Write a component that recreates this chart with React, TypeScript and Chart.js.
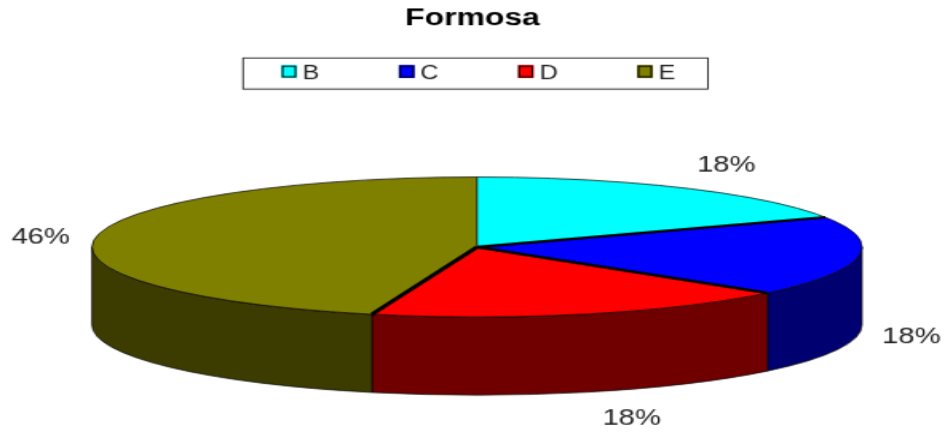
import React, { useEffect, useRef } from "react";
import { Chart, registerables } from "chart.js";

Chart.register(...registerables);

const categories = ["B", "C", "D", "E"];
const shares = [18, 18.4, 18, 45.6];
const topColours = ["#00ffff", "#0000ff", "#ff0000", "#808000"];
const wallColours = ["#008080", "#000070", "#700000", "#3c3c00"];
const spokeWidths = [0.8, 2.2, 2.2, 3];
const labelOffsets = [[43, -22], [53, 81], [45, 105], [-55, 0]];

const OUT_W = 945;
const OUT_H = 432;
const W = 592;
const H = 360;
const SX = OUT_W / W;
const SY = OUT_H / H;
const CX = 477 / SX;
const CY = 247 / SY;
const RX = 385 / SX;
const RY = 70 / SY;
const DEPTH = 78 / SY;
const FONT = "'Liberation Sans', Arial, sans-serif";

const pie3d = {
  id: "pie3d",
  afterLayout(chart: any) {
    const pad = chart.options.plugins.legend.labels.padding;
    chart.legend.top = 65 / SY - pad;
    chart.legend.left += 2;
    chart.legend.right += 2;
  },
  beforeDatasetsDraw(chart: any) {
    const ctx = chart.ctx;
    const arcs = chart.getDatasetMeta(0).data;
    ctx.save();
    arcs.forEach((arc: any, i: number) => {
      const a = Math.max(arc.startAngle, 0);
      const b = Math.min(arc.endAngle, Math.PI);
      if (b <= a) return;
      ctx.beginPath();
      ctx.ellipse(CX, CY, RX, RY, 0, a, b);
      ctx.ellipse(CX, CY + DEPTH, RX, RY, 0, b, a, true);
      ctx.closePath();
      ctx.fillStyle = wallColours[i];
      ctx.fill();
      ctx.strokeStyle = "#000";
      ctx.lineWidth = 0.7;
      ctx.stroke();
    });
    ctx.restore();
    const arc0 = arcs[0];
    ctx.save();
    ctx.translate(CX, CY);
    ctx.scale(RX / arc0.outerRadius, RY / arc0.outerRadius);
    ctx.translate(-arc0.x, -arc0.y);
  },
  afterDatasetsDraw(chart: any) {
    const ctx = chart.ctx;
    ctx.restore();
    const arcs = chart.getDatasetMeta(0).data;
    const values = chart.data.datasets[0].data;
    const total = values.reduce((s: number, v: number) => s + v, 0);
    ctx.save();
    ctx.strokeStyle = "#000";
    ctx.lineWidth = 0.7;
    ctx.beginPath();
    ctx.ellipse(CX, CY, RX, RY, 0, 0, Math.PI * 2);
    ctx.stroke();
    arcs.forEach((arc: any, i: number) => {
      ctx.lineWidth = spokeWidths[i];
      ctx.beginPath();
      ctx.moveTo(CX, CY);
      ctx.lineTo(CX + RX * Math.cos(arc.startAngle), CY + RY * Math.sin(arc.startAngle));
      ctx.stroke();
    });
    ctx.font = `${22 / SY}px ${FONT}`;
    ctx.fillStyle = "#222";
    ctx.textAlign = "center";
    ctx.textBaseline = "middle";
    arcs.forEach((arc: any, i: number) => {
      const mid = (arc.startAngle + arc.endAngle) / 2;
      const x = CX + RX * Math.cos(mid) + labelOffsets[i][0] / SX;
      const y = CY + RY * Math.sin(mid) + labelOffsets[i][1] / SY;
      ctx.fillText(`${Math.round((values[i] / total) * 100)}%`, x, y);
    });
    ctx.restore();
  },
  afterDraw(chart: any) {
    const ctx = chart.ctx;
    ctx.save();
    ctx.strokeStyle = "#222";
    ctx.lineWidth = 0.9;
    ctx.strokeRect(243 / SX, 58 / SY, 465 / SX, 31 / SY);
    // legend swatches: coloured rim, black ring, coloured centre, set close to each label
    const bw = 16 / SX;
    const bh = 13 / SY;
    const by = 65 / SY;
    chart.legend.legendHitBoxes.forEach((hit: any, i: number) => {
      const bx = hit.left + 5 / SX;
      ctx.fillStyle = topColours[i];
      ctx.fillRect(bx, by, bw, bh);
      ctx.strokeStyle = "#000";
      ctx.lineWidth = 1;
      ctx.strokeRect(bx + 1, by + 1, bw - 2, bh - 2);
    });
    ctx.restore();
  },
};

export default function App() {
  const ref = useRef<HTMLCanvasElement>(null);
  useEffect(() => {
    document.body.style.margin = "0";
    const canvas = ref.current!;
    canvas.width = W;
    canvas.height = H;
    const chart = new Chart(canvas, {
      type: "pie",
      data: {
        labels: categories,
        datasets: [
          {
            data: shares,
            backgroundColor: topColours,
            borderWidth: 0,
            clip: false,
          } as any,
        ],
      },
      options: {
        responsive: false,
        animation: false,
        devicePixelRatio: 1,
        plugins: {
          title: {
            display: true,
            text: "Formosa",
            color: "#000",
            font: { family: FONT, size: 24 / SY, weight: "bold" },
            padding: { top: 4 / SY, bottom: 0 },
          },
          legend: {
            position: "top",
            labels: {
              boxWidth: 14 / SX,
              boxHeight: 13 / SY,
              padding: 46.5,
              color: "#222",
              font: { family: FONT, size: 19 / SY },
              generateLabels(c: any) {
                return (Chart as any).overrides.pie.plugins.legend.labels
                  .generateLabels(c)
                  .map((it: any) => ({
                    ...it,
                    fillStyle: "rgba(0,0,0,0)",
                    strokeStyle: "rgba(0,0,0,0)",
                    lineWidth: 0,
                  }));
              },
            },
          },
          tooltip: { enabled: false },
        },
      } as any,
      plugins: [pie3d],
    });
    canvas.style.width = OUT_W + "px";
    canvas.style.height = OUT_H + "px";
    canvas.style.display = "block";
    return () => chart.destroy();
  }, []);
  return <canvas ref={ref} />;
}
